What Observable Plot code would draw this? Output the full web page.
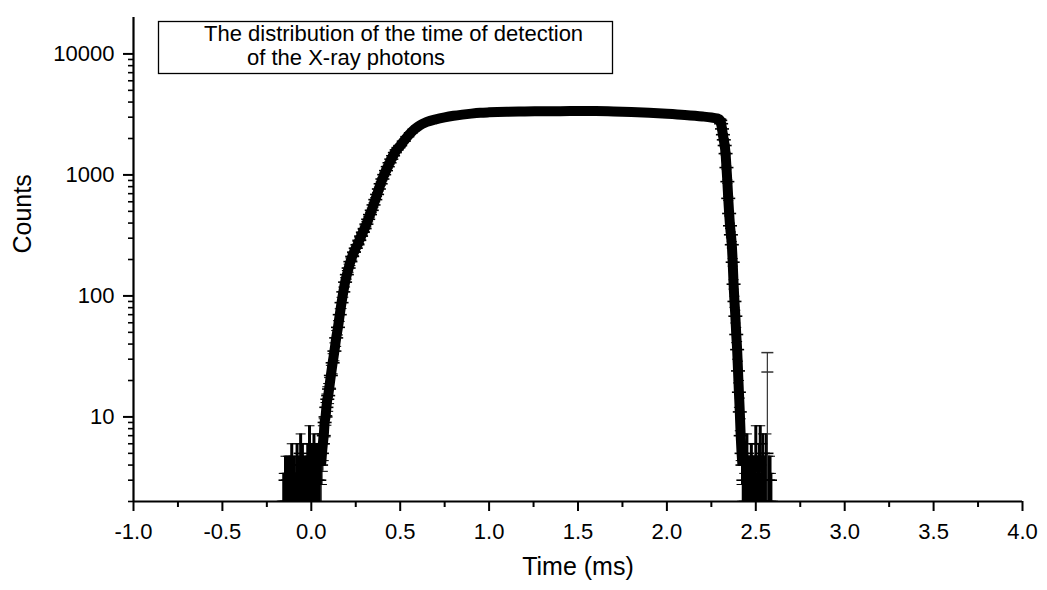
<!DOCTYPE html>
<html>
<head>
<meta charset="utf-8">
<script src="https://cdn.jsdelivr.net/npm/d3@7"></script>
<script src="https://cdn.jsdelivr.net/npm/@observablehq/plot@0.6"></script>
<style>
  html, body { margin: 0; padding: 0; background: #fff; }
  #chart { width: 1047px; height: 590px; }
</style>
</head>
<body>
<div id="chart"></div>
<script>
// ---------- data ----------
const titleLines = ["The distribution of the time of detection", "of the X-ray photons"];
const xLabel = "Time (ms)";
const yLabel = "Counts";

const xTicks = [-1.0, -0.5, 0.0, 0.5, 1.0, 1.5, 2.0, 2.5, 3.0, 3.5, 4.0];
const xMinorTicks = [-0.75, -0.25, 0.25, 0.75, 1.25, 1.75, 2.25, 2.75, 3.25, 3.75];
const yTicks = [10, 100, 1000, 10000];
const yMinorTicks = [2, 3, 4, 5, 6, 7, 8, 9, 20, 30, 40, 50, 60, 70, 80, 90,
  200, 300, 400, 500, 600, 700, 800, 900, 2000, 3000, 4000, 5000, 6000, 7000, 8000, 9000];

// low-count noise before the pulse
const preTime = [-0.155, -0.150, -0.145, -0.140, -0.135, -0.130, -0.125, -0.120, -0.115, -0.110,
  -0.105, -0.100, -0.095, -0.090, -0.085, -0.080, -0.075, -0.070, -0.065, -0.060,
  -0.055, -0.050, -0.045, -0.040, -0.035, -0.030, -0.025, -0.020, -0.015, -0.010,
  -0.005, 0.000, 0.005, 0.010, 0.015, 0.020, 0.025, 0.030, 0.035, 0.040, 0.045, 0.050];
const preCounts = [2, 2, 3, 2, 2, 3, 2, 3, 2, 4,
  2, 2, 3, 2, 2, 4, 2, 3, 2, 5,
  2, 4, 2, 3, 2, 3, 2, 4, 2, 6,
  3, 2, 4, 3, 5, 3, 4, 4, 3, 4, 3, 5];

// main pulse: rise, plateau, fall
const mainTime = [0.055, 0.060, 0.065, 0.070, 0.075, 0.080, 0.085, 0.090, 0.095, 0.100,
  0.110, 0.120, 0.130, 0.140, 0.150, 0.160, 0.170, 0.180, 0.190, 0.200,
  0.210, 0.220, 0.230, 0.240, 0.250, 0.260, 0.270, 0.280, 0.290, 0.300,
  0.310, 0.320, 0.330, 0.340, 0.350, 0.360, 0.370, 0.380, 0.390, 0.400,
  0.410, 0.420, 0.430, 0.440, 0.450, 0.460, 0.470, 0.480, 0.490, 0.500,
  0.520, 0.540, 0.560, 0.580, 0.600, 0.625, 0.650, 0.700, 0.750, 0.800, 0.850,
  0.900, 0.950, 1.000, 1.100, 1.200, 1.300, 1.400, 1.500, 1.600, 1.700,
  1.800, 1.900, 2.000, 2.100, 2.200, 2.250, 2.280, 2.290, 2.295, 2.300,
  2.305, 2.310, 2.315, 2.320, 2.325, 2.330, 2.335, 2.340, 2.345, 2.350,
  2.355, 2.360, 2.365, 2.370, 2.375, 2.380, 2.385, 2.390, 2.395, 2.400,
  2.405, 2.410, 2.415, 2.420, 2.425];
const mainCounts = [4, 5, 6, 7, 9, 10, 12, 14, 15, 17,
  22, 28, 35, 45, 55, 70, 88, 108, 130, 150,
  170, 192, 212, 230, 248, 265, 288, 312, 336, 360,
  392, 430, 470, 510, 565, 625, 690, 765, 845, 925,
  1005, 1085, 1170, 1260, 1350, 1440, 1530, 1610, 1680, 1745,
  1900, 2070, 2230, 2380, 2510, 2640, 2740, 2880, 2990, 3080, 3150,
  3210, 3260, 3290, 3330, 3350, 3360, 3365, 3370, 3370, 3350,
  3310, 3260, 3200, 3130, 3040, 2980, 2930, 2900, 2880, 2820,
  2650, 2400, 2150, 1950, 1750, 1500, 1150, 880, 640, 480,
  380, 320, 265, 190, 125, 90, 68, 48, 36, 24,
  16, 11, 7, 5, 4];

// low-count noise after the pulse
const postTime = [2.430, 2.435, 2.440, 2.445, 2.450, 2.455, 2.460, 2.465, 2.470, 2.475,
  2.480, 2.485, 2.490, 2.495, 2.500, 2.505, 2.510, 2.515, 2.520, 2.525,
  2.530, 2.535, 2.540, 2.545, 2.550, 2.555, 2.560, 2.565, 2.570, 2.575, 2.580, 2.585];
const postCounts = [3, 2, 4, 2, 5, 3, 2, 3, 2, 4,
  2, 3, 2, 3, 6, 2, 3, 2, 4, 6,
  2, 3, 5, 2, 3, 2, 5, 2, 3, 2, 3, 2];

// the single long error bar near 2.57 ms (two caps on one bar)
const spikeTime = [2.565];
const spikeTop = [34];
const spikeInnerCap = [23.5];

// ---------- build tables ----------
const toRows = (ts, cs) => ts.map((t, i) => ({
  t, c: cs[i], lo: cs[i] - Math.sqrt(cs[i]), hi: cs[i] + Math.sqrt(cs[i])
}));
const pre = toRows(preTime, preCounts);
const main = toRows(mainTime, mainCounts);
const post = toRows(postTime, postCounts);
const noise = [...pre, ...post];
const all = [...pre, ...main, ...post];
const spike = spikeTime.map((t, i) => ({t, top: spikeTop[i], cap: spikeInnerCap[i]}));

// horizontal dash symbol (used for markers and error-bar caps)
const dash = {
  draw(ctx, size) {
    const w = Math.sqrt(size / Math.PI);
    ctx.moveTo(-w, 0);
    ctx.lineTo(w, 0);
  }
};

const yMin = 2, yMax = 20000;

const chart = Plot.plot({
  width: 1047,
  height: 590,
  marginLeft: 133,
  marginRight: 25,
  marginTop: 17,
  marginBottom: 89,
  style: {fontFamily: "'Liberation Sans', Arial, sans-serif", fontSize: "22px", color: "black", background: "white"},
  x: {domain: [-1, 4], axis: null},
  y: {type: "log", domain: [yMin, yMax], axis: null},
  marks: [
    // error bars of the noisy low-count bins (dense -> solid block)
    Plot.ruleX(noise, {x: "t", y1: "lo", y2: "hi", stroke: "black", strokeWidth: 3, clip: true}),
    // error bars of the pulse
    Plot.ruleX(main, {x: "t", y1: "lo", y2: "hi", stroke: "black", strokeWidth: 1.2, clip: true}),
    Plot.dot(all, {x: "t", y: "hi", symbol: dash, r: 5, stroke: "black", strokeWidth: 1, fill: "none", clip: true}),
    Plot.dot(all, {x: "t", y: "lo", symbol: dash, r: 5, stroke: "black", strokeWidth: 1, fill: "none", clip: true}),
    // spike error bar
    Plot.ruleX(spike, {x: "t", y1: yMin, y2: "top", stroke: "#333", strokeWidth: 1.2, clip: true}),
    Plot.dot(spike, {x: "t", y: "top", symbol: dash, r: 6, stroke: "#333", strokeWidth: 1.5, fill: "none", clip: true}),
    Plot.dot(spike, {x: "t", y: "cap", symbol: dash, r: 6, stroke: "#333", strokeWidth: 1.5, fill: "none", clip: true}),
    // main thick curve
    Plot.line(main, {x: "t", y: "c", stroke: "black", strokeWidth: 10, strokeLinejoin: "round", strokeLinecap: "butt", curve: "monotone-x", clip: true}),
    // markers
    Plot.dot(all, {x: "t", y: "c", symbol: dash, r: 7, stroke: "black", strokeWidth: 1.6, fill: "none", clip: true}),
    // axes
    Plot.axisX(xTicks, {anchor: "bottom", tickSize: 10, tickPadding: 12, strokeWidth: 2,
      tickFormat: d => d.toFixed(1), fontSize: 22, label: null}),
    Plot.axisX(xMinorTicks, {anchor: "bottom", tickSize: 6, strokeWidth: 2, tickFormat: () => "", label: null}),
    Plot.axisY(yTicks, {anchor: "left", tickSize: 10, tickPadding: 9, strokeWidth: 2,
      tickFormat: d => String(d), fontSize: 22, label: null}),
    Plot.axisY(yMinorTicks, {anchor: "left", tickSize: 5, strokeWidth: 1.6, tickFormat: () => "", label: null}),
    Plot.ruleY([yMin], {stroke: "black", strokeWidth: 2.2}),
    Plot.ruleX([-1], {stroke: "black", strokeWidth: 2.2}),
    // axis titles
    Plot.text([xLabel], {frameAnchor: "bottom", dy: 73, fontSize: 25, fill: "black"}),
    Plot.text([yLabel], {frameAnchor: "left", dx: -111, dy: -6, rotate: -90, fontSize: 25, fill: "black"})
  ]
});

document.getElementById("chart").appendChild(chart);

// title box inside the plot area
const svg = d3.select(chart);
const box = svg.append("g").attr("class", "title-box").attr("text-anchor", "start");
box.append("rect")
  .attr("x", 158.5).attr("y", 21.5).attr("width", 454).attr("height", 52)
  .attr("fill", "white").attr("stroke", "black").attr("stroke-width", 1.3);
box.append("text")
  .attr("x", 204).attr("y", 41)
  .attr("text-anchor", "start")
  .attr("font-size", 22).attr("fill", "black")
  .text(titleLines[0]);
box.append("text")
  .attr("x", 247).attr("y", 65)
  .attr("text-anchor", "start")
  .attr("font-size", 22).attr("fill", "black")
  .text(titleLines[1]);
</script>
</body>
</html>
